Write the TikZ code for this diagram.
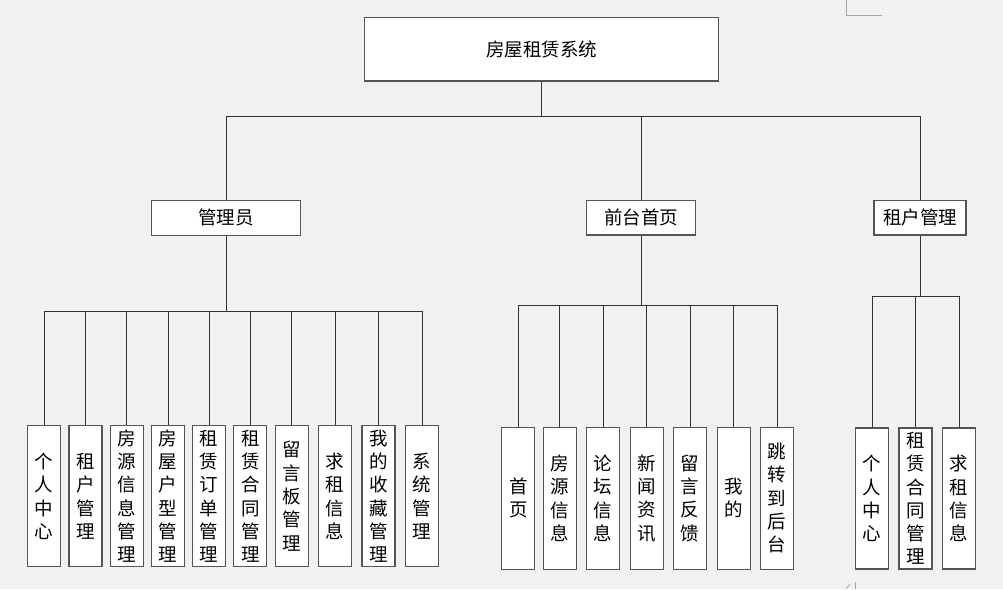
\documentclass[tikz,border=0pt]{standalone}
\usepackage{fontspec}
\newfontfamily\cjk{Noto Sans CJK SC}
\definecolor{bg}{HTML}{F1F1F1}
\definecolor{edge}{HTML}{555555}
\definecolor{wire}{HTML}{333333}
\begin{document}
\begin{tikzpicture}[x=1pt,y=-1pt,
  box/.style={draw=edge,fill=white,line width=1.1pt,inner sep=0pt,
    font=\cjk\fontsize{18.5}{23.3}\selectfont,align=center},
  topbox/.style={box,minimum width=354pt,minimum height=63.5pt},
  midbox/.style={box,minimum height=34.5pt},
  leaf/.style={box,minimum width=33pt,minimum height=141pt},
  wirestyle/.style={draw=wire,line width=1pt}]
\fill[bg] (0,0) rectangle (1003,589);
\useasboundingbox (0,0) rectangle (1003,589);
% Word page-corner marks
\draw[black!35,line width=0.8pt] (846,0) -- (846,15) -- (882,15);
\draw[black!35,line width=0.8pt] (855.5,582) -- (855.5,589) (846,589) -- (850,584);

% top
\node[topbox] (top) at (541.5,49.2) {房屋租赁系统};
% level 2
\node[midbox,minimum width=149pt] (admin) at (226,217.8) {管理员};
\node[midbox,minimum width=109pt] (front) at (641.2,217.7) {前台首页};
\node[midbox,minimum width=92pt] (tenant) at (920,217.7) {租户管理};

\coordinate (b1) at (541.5,116.3);
\draw[wirestyle] (top.south) -- (b1);
\draw[wirestyle] (b1) -| (admin.north);
\draw[wirestyle] (b1) -| (front.north);
\draw[wirestyle] (b1) -| (tenant.north);

% admin children
\node[leaf] (a1) at (44,496.2) {个\\人\\中\\心};
\node[leaf] (a2) at (85.5,496.2) {租\\户\\管\\理};
\node[leaf] (a3) at (126.7,496.2) {房\\源\\信\\息\\管\\理};
\node[leaf] (a4) at (168,496.2) {房\\屋\\户\\型\\管\\理};
\node[leaf] (a5) at (209.2,496.2) {租\\赁\\订\\单\\管\\理};
\node[leaf] (a6) at (250.4,496.2) {租\\赁\\合\\同\\管\\理};
\node[leaf] (a7) at (291.7,496.2) {留\\言\\板\\管\\理};
\node[leaf] (a8) at (335,496.2) {求\\租\\信\\息};
\node[leaf] (a9) at (378.5,496.2) {我\\的\\收\\藏\\管\\理};
\node[leaf] (a10) at (422.2,496.2) {系\\统\\管\\理};
\coordinate (b2) at (226,311.5);
\draw[wirestyle] (admin.south) -- (b2);
\foreach \n in {a1,a2,a3,a4,a5,a6,a7,a8,a9,a10}
  \draw[wirestyle] (b2) -| (\n.north);

% front children
\node[leaf,minimum height=141.7pt] (f1) at (518.3,498.2) {首\\页};
\node[leaf,minimum height=141.7pt] (f2) at (559.7,498.2) {房\\源\\信\\息};
\node[leaf,minimum height=141.7pt] (f3) at (603,498.2) {论\\坛\\信\\息};
\node[leaf,minimum height=141.7pt] (f4) at (646.7,498.2) {新\\闻\\资\\讯};
\node[leaf,minimum height=141.7pt] (f5) at (690,498.2) {留\\言\\反\\馈};
\node[leaf,minimum height=141.7pt] (f6) at (733.7,498.2) {我\\的};
\node[leaf,minimum height=141.7pt] (f7) at (777,498.2) {跳\\转\\到\\后\\台};
\coordinate (b3) at (641.2,305.7);
\draw[wirestyle] (front.south) -- (b3);
\foreach \n in {f1,f2,f3,f4,f5,f6,f7}
  \draw[wirestyle] (b3) -| (\n.north);

% tenant children
\node[leaf] (t1) at (872,498.5) {个\\人\\中\\心};
\node[leaf] (t2) at (915.5,498.5) {租\\赁\\合\\同\\管\\理};
\node[leaf] (t3) at (959,498.5) {求\\租\\信\\息};
\coordinate (b4) at (920,296.5);
\draw[wirestyle] (tenant.south) -- (b4);
\foreach \n in {t1,t2,t3}
  \draw[wirestyle] (b4) -| (\n.north);
\end{tikzpicture}
\end{document}
